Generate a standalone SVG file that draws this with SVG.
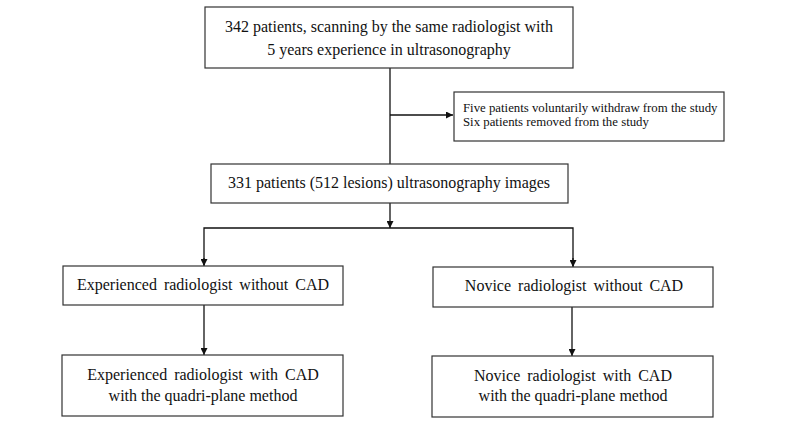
<svg xmlns="http://www.w3.org/2000/svg" width="800" height="422" viewBox="0 0 800 422">
<style>
.box{fill:#fff;stroke:#333;stroke-width:1.2}
.t{font-family:"Liberation Serif","Times New Roman",serif;font-size:16px;fill:#111;text-anchor:middle}
.s{font-family:"Liberation Serif","Times New Roman",serif;font-size:12.8px;fill:#111}
.c{fill:none;stroke:#111;stroke-width:1.3}
</style>
<defs>
<marker id="ah" viewBox="0 0 10 10" refX="10" refY="5" markerWidth="7" markerHeight="7" markerUnits="userSpaceOnUse" orient="auto">
<path d="M0,0 L10,5 L0,10 z" fill="#111"/>
</marker>
</defs>
<rect width="800" height="422" fill="#fff"/>
<g id="connectors">
<line class="c" x1="390" y1="68" x2="390" y2="164"/>
<line class="c" x1="390" y1="115" x2="453" y2="115" marker-end="url(#ah)"/>
<line class="c" x1="390" y1="203" x2="390" y2="228" marker-end="url(#ah)"/>
<polyline class="c" points="204,265 204,228 573,228 573,266" />
<line class="c" x1="204" y1="258" x2="204" y2="266" marker-end="url(#ah)"/>
<line class="c" x1="573" y1="258" x2="573" y2="267" marker-end="url(#ah)"/>
<line class="c" x1="204" y1="305" x2="204" y2="355" marker-end="url(#ah)"/>
<line class="c" x1="572" y1="307" x2="572" y2="356" marker-end="url(#ah)"/>
</g>
<g id="n1">
<rect class="box" x="205" y="7" width="368" height="61"/>
<text class="t" x="389" y="32">342 patients, scanning by the same radiologist with</text>
<text class="t" x="389" y="55">5 years experience in ultrasonography</text>
</g>
<g id="n2">
<rect class="box" x="454" y="92" width="270" height="49"/>
<text class="s" x="463" y="112">Five patients voluntarily withdraw from the study</text>
<text class="s" x="463" y="126">Six patients removed from the study</text>
</g>
<g id="n3">
<rect class="box" x="211" y="164" width="357" height="39"/>
<text class="t" x="389" y="188">331 patients (512 lesions) ultrasonography images</text>
</g>
<g id="n4">
<rect class="box" x="63" y="266" width="280" height="39"/>
<text class="t" x="203" y="290" word-spacing="3">Experienced radiologist without CAD</text>
</g>
<g id="n5">
<rect class="box" x="433" y="267" width="280" height="40"/>
<text class="t" x="574" y="291" word-spacing="3">Novice radiologist without CAD</text>
</g>
<g id="n6">
<rect class="box" x="62" y="355" width="281" height="61"/>
<text class="t" x="203" y="380" word-spacing="3">Experienced radiologist with CAD</text>
<text class="t" x="203" y="401">with the quadri-plane method</text>
</g>
<g id="n7">
<rect class="box" x="432" y="356" width="281" height="61"/>
<text class="t" x="573" y="381" word-spacing="3">Novice radiologist with CAD</text>
<text class="t" x="573" y="401">with the quadri-plane method</text>
</g>
</svg>
